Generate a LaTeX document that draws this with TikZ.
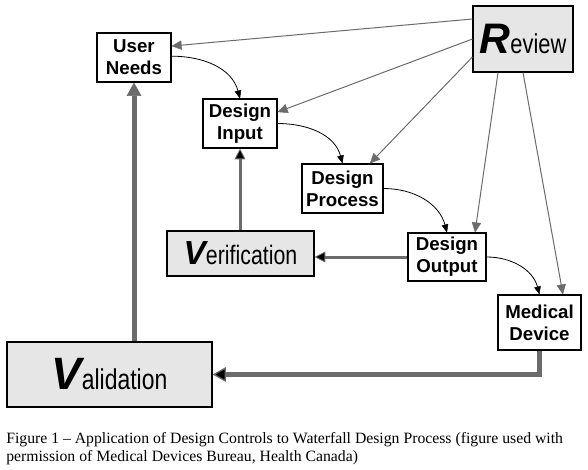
\documentclass[tikz,border=0pt]{standalone}
\usepackage{fontspec}
\setmainfont{Liberation Sans}
\newfontfamily\narrowfont[FakeStretch=0.8]{Liberation Sans}
\newfontfamily\capfont{Liberation Serif}
\usetikzlibrary{arrows.meta}
\definecolor{arrgray}{HTML}{6B6B6B}
\definecolor{boxgray}{HTML}{E6E6E6}
\tikzset{
  box/.style n args={2}{draw=black, line width=0.9pt, fill=white, inner sep=0pt,
    minimum width=#1*0.75pt, minimum height=#2*0.75pt, align=center,
    font=\fontsize{14pt}{16.5pt}\selectfont\bfseries},
  graybox/.style={fill=boxgray},
  reviewarrow/.style={draw=arrgray, line width=0.75pt,
    -{Triangle[length=7.5pt,width=7pt,line width=0.3pt]}},
  flowarrow/.style={draw=black, line width=0.6pt,
    -{Triangle[length=6pt,width=5pt,line width=0.3pt]}},
  midarrow/.style={draw=arrgray, line width=2.25pt,
    -{Triangle[length=8pt,width=8pt,line width=0.6pt,fill=black]}},
  thickarrow/.style={draw=arrgray, line width=3.75pt,
    -{Triangle[length=10pt,width=11pt,line width=0.5pt]}},
  thickarrowb/.style={draw=arrgray, line width=3.75pt,
    -{Triangle[length=10pt,width=11pt,line width=1pt,fill=black]}},
  captext/.style={anchor=base west, inner sep=0pt, font=\capfont\fontsize{11.8pt}{13pt}\selectfont}
}
\begin{document}
\begin{tikzpicture}[x=0.75pt, y=-0.75pt]
\useasboundingbox (0,0) rectangle (588,469);
\node[box={74}{49}] (un) at (134,57.5) {User\\Needs};
\node[box={74}{49}] (di) at (240,123.5) {Design\\Input};
\node[box={81}{49}] (dp) at (342.5,188.5) {Design\\Process};
\node[box={78}{48}] (do) at (447,257) {Design\\Output};
\node[box={83}{55}] (md) at (539.5,322.5) {Medical\\Device};
\node[box={100}{66}, graybox] (rv) at (523,39)
  {\fontsize{32pt}{32pt}\selectfont\bfseries\itshape R\narrowfont\fontsize{20.5pt}{21pt}\selectfont\mdseries\upshape eview};
\node[box={147}{45}, graybox] (vf) at (240.5,253.5)
  {\fontsize{25pt}{25pt}\selectfont\bfseries\itshape V\narrowfont\fontsize{20pt}{20pt}\selectfont\mdseries\upshape erification};
\node[box={205}{65}, graybox] (vl) at (109.5,374.5)
  {\fontsize{34pt}{34pt}\selectfont\bfseries\itshape V\narrowfont\fontsize{21.5pt}{22pt}\selectfont\mdseries\upshape alidation};

% review arrows
\draw[reviewarrow] ([yshift=15pt]rv.west) -- ([yshift=8.6pt]un.east);
\draw[reviewarrow] (rv.west) -- ([yshift=8.6pt]di.east);
\draw[reviewarrow] ([yshift=-13.5pt]rv.west) -- ([xshift=20.6pt]dp.north);
\draw[reviewarrow] ([xshift=-18.75pt]rv.south) -- ([xshift=21pt]do.north);
\draw[reviewarrow] (rv.south) -- ([xshift=17.6pt]md.north);

% flow arrows
\draw[flowarrow] ([yshift=1pt]un.east) to[out=0, in=105] (di.north);
\draw[flowarrow] (di.east) to[out=0, in=105] (dp.north);
\draw[flowarrow] (dp.east) to[out=0, in=105] (do.north);
\draw[flowarrow] (do.east) to[out=0, in=105] (md.north);

% verification / validation
\draw[midarrow] (di.south |- vf.north) -- (di.south);
\draw[midarrow] (do.west) -- (vf.east |- do.west);
\draw[thickarrowb] (md.south) |- (vl.east);
\draw[thickarrow] (un.south |- vl.north) -- (un.south);

\node[captext] (cap1) at (6,443) {Figure 1 \textendash{} Application of Design Controls to Waterfall Design Process (figure used with};
\node[captext] (cap2) at (6,461) {permission of Medical Devices Bureau, Health Canada)};
\end{tikzpicture}
\end{document}
